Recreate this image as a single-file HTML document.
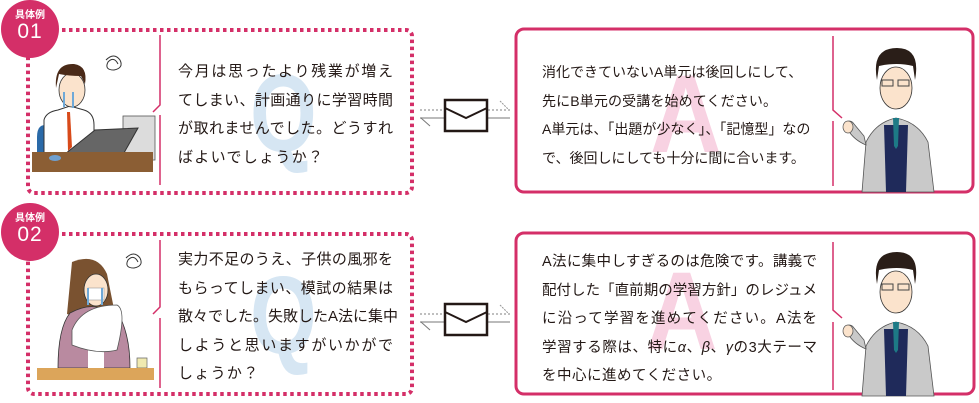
<!DOCTYPE html>
<html><head><meta charset="utf-8"><style>
html,body{margin:0;padding:0;background:#fff;}
body{width:979px;height:403px;position:relative;overflow:hidden;font-family:"Liberation Sans","Noto Sans CJK JP",sans-serif;}
.t{position:absolute;color:#231815;white-space:nowrap;font-size:15px;line-height:28.5px;}
.t div{text-align:justify;text-align-last:justify;}
.t div.l{text-align-last:left;}
.wm{position:absolute;font-family:"Liberation Sans",sans-serif;font-weight:bold;font-size:110px;line-height:1;transform-origin:0 0;}
.badge{position:absolute;width:58px;height:58px;border-radius:50%;background:#d42f68;color:#fff;text-align:center;}
.badge .s{font-size:10px;font-weight:bold;line-height:11px;margin-top:10px;}
.badge .n{font-size:21px;line-height:22px;letter-spacing:1px;}
</style></head><body>
<div class="wm" style="left:250px;top:59px;color:#d6e6f3;transform:scaleX(0.78);">Q</div>
<div class="wm" style="left:250px;top:261px;color:#d6e6f3;transform:scaleX(0.78);">Q</div>
<div class="wm" style="left:650px;top:60px;color:#f8d2e2;transform:scaleX(0.9);">A</div>
<div class="wm" style="left:646px;top:257px;color:#f8d2e2;transform:scaleX(0.9);">A</div>
<svg width="979" height="403" style="position:absolute;left:0;top:0">
  <rect x="28" y="30" width="384" height="163" rx="6" fill="none" stroke="#d42f68" stroke-width="4" stroke-dasharray="3.5 3.5"/>
  <rect x="28" y="234" width="384" height="160" rx="6" fill="none" stroke="#d42f68" stroke-width="4" stroke-dasharray="3.5 3.5"/>
  <rect x="516" y="29" width="457" height="163" rx="8" fill="none" stroke="#d42f68" stroke-width="3"/>
  <rect x="516" y="233" width="458" height="161" rx="8" fill="none" stroke="#d42f68" stroke-width="3"/>
  <g stroke="#d42f68" stroke-width="1.5" fill="none">
    <path d="M160 35 V105 L153 112"/><path d="M160 115 V185"/>
    <path d="M160 240 V307 L153 314"/><path d="M160 318 V388"/>
    <path d="M833 36 V110 L842 118"/><path d="M833 121 V186"/>
    <path d="M833 242 V310 L842 318"/><path d="M833 322 V390"/>
  </g>
  <g>
    <line x1="420" y1="110" x2="510" y2="110" stroke="#aaa" stroke-width="1.5" stroke-dasharray="2 2"/>
    <line x1="420" y1="118" x2="510" y2="118" stroke="#bbb" stroke-width="2"/>
    <line x1="421" y1="118" x2="430" y2="126" stroke="#777" stroke-width="1"/>
    <line x1="500" y1="101" x2="508" y2="109" stroke="#999" stroke-width="1" stroke-dasharray="2 1"/>
    <rect x="445" y="100" width="42" height="31" fill="#fff" stroke="#231815" stroke-width="2.5"/>
    <path d="M445 108 L466 118 L487 108" fill="none" stroke="#231815" stroke-width="2"/>
  </g>
  <g transform="translate(0,204)">
    <line x1="420" y1="110" x2="510" y2="110" stroke="#aaa" stroke-width="1.5" stroke-dasharray="2 2"/>
    <line x1="420" y1="118" x2="510" y2="118" stroke="#bbb" stroke-width="2"/>
    <line x1="421" y1="118" x2="430" y2="126" stroke="#777" stroke-width="1"/>
    <line x1="500" y1="101" x2="508" y2="109" stroke="#999" stroke-width="1" stroke-dasharray="2 1"/>
    <rect x="445" y="100" width="42" height="31" fill="#fff" stroke="#231815" stroke-width="2.5"/>
    <path d="M445 108 L466 118 L487 108" fill="none" stroke="#231815" stroke-width="2"/>
  </g>
  <g>
    <path d="M106 60 q8 -8 14 0 q4 8 -6 10 q-10 0 -6 -8 q6 -6 10 2" fill="none" stroke="#333" stroke-width="1"/>
    <path d="M45 125 q-8 0 -8 12 v18 h20 z" fill="#2a6aa8"/>
    <path d="M44 160 V120 q2 -8 14 -10 l12 -4 l14 4 q10 3 10 15 v35 z" fill="#fff" stroke="#333" stroke-width="1"/>
    <path d="M67 112 l3 0 l2 35 l-4 4 z" fill="#d84a1a"/>
    <ellipse cx="72" cy="90" rx="13" ry="17" fill="#fbe3cc" stroke="#333" stroke-width="0.8"/>
    <path d="M56 88 q-2 -25 18 -24 q14 2 11 20 l-4 -8 q-12 0 -22 -2 z" fill="#4a2a18"/>
    <line x1="64" y1="92" x2="64" y2="107" stroke="#6fa9d8" stroke-width="2"/>
    <line x1="73" y1="92" x2="73" y2="108" stroke="#6fa9d8" stroke-width="2"/>
    <rect x="123" y="116" width="32" height="44" fill="#dcdcdc" stroke="#555" stroke-width="0.8"/>
    <path d="M60 158 L95 130 L138 128 L120 160 z" fill="#666" stroke="#333" stroke-width="1"/>
    <rect x="32" y="152" width="121" height="20" fill="#8b5e34"/>
    <ellipse cx="55" cy="158" rx="6" ry="3" fill="#6fa0d0"/>
  </g>
  <g>
    <path d="M126 258 q8 -8 14 0 q4 8 -6 10 q-10 0 -6 -8 q6 -6 10 2" fill="none" stroke="#333" stroke-width="1"/>
    <path d="M72 262 q25 -10 35 12 l8 40 q-20 10 -48 0 z" fill="#7a5230"/>
    <ellipse cx="96" cy="290" rx="12" ry="16" fill="#fbe3cc" stroke="#333" stroke-width="0.8"/>
    <rect x="88" y="288" width="16" height="12" fill="#fff" stroke="#999" stroke-width="0.6"/>
    <line x1="88" y1="288" x2="88" y2="305" stroke="#6fa9d8" stroke-width="2"/>
    <line x1="102" y1="288" x2="102" y2="305" stroke="#6fa9d8" stroke-width="2"/>
    <path d="M58 368 q0 -40 12 -55 q15 -8 26 -6 q15 2 24 10 q10 20 10 51 z" fill="#b98aa0" stroke="#333" stroke-width="0.8"/>
    <path d="M88 320 h16 v48 h-16 z" fill="#fff"/>
    <path d="M72 330 q10 -25 45 -25 q10 5 0 45 q-20 5 -45 -5 z" fill="#fff" stroke="#555" stroke-width="0.8"/>
    <path d="M137 358 h10 v10 h-10 z" fill="#f0eab0" stroke="#666" stroke-width="0.7"/>
    <rect x="37" y="368" width="117" height="12" fill="#dca55a"/>
  </g>
  <g id="tch">
    <ellipse cx="896" cy="88" rx="16" ry="21" fill="#fbe3cc" stroke="#333" stroke-width="0.8"/>
    <path d="M877 80 q-6 -32 20 -32 q24 0 18 32 l-2 -14 q-16 -4 -34 0 z" fill="#2a1e18"/>
    <rect x="882" y="80" width="11" height="6" fill="none" stroke="#444" stroke-width="1"/>
    <rect x="898" y="80" width="11" height="6" fill="none" stroke="#444" stroke-width="1"/>
    <path d="M862 192 l4 -50 q10 -20 30 -24 q22 4 32 24 l6 50 z" fill="#c9c9c9" stroke="#555" stroke-width="0.8"/>
    <path d="M884 125 h24 l-2 67 h-20 z" fill="#1f2a5a"/>
    <path d="M893 118 h6 l-1 28 l-2 3 l-2 -3 z" fill="#1d7a86"/>
    <path d="M866 145 q-12 -5 -18 -15 l-4 -6 q6 -6 10 0 l10 12 z" fill="#c9c9c9" stroke="#555" stroke-width="0.8"/>
    <ellipse cx="848" cy="127" rx="5" ry="6" fill="#fbe3cc" stroke="#555" stroke-width="0.7"/>
  </g>
  <use href="#tch" transform="translate(0,204)"/>
</svg>
<div class="badge" style="left:1px;top:0px;"><div class="s">具体例</div><div class="n">01</div></div>
<div class="badge" style="left:1px;top:203px;"><div class="s">具体例</div><div class="n">02</div></div>
<div class="t" style="left:178px;top:58px;width:215px;letter-spacing:0;">
<div>今月は思ったより残業が増え</div><div>てしまい、計画通りに学習時間</div><div>が取れませんでした。どうすれ</div><div class="l" style="letter-spacing:1.3px">ばよいでしょうか？</div></div>
<div class="t" style="left:178px;top:246px;width:215px;letter-spacing:0;">
<div>実力不足のうえ、子供の風邪を</div><div>もらってしまい、模試の結果は</div><div>散々でした。失敗したA法に集中</div><div>しようと思いますがいかがで</div><div class="l" style="letter-spacing:1.3px">しょうか？</div></div>
<div class="t" style="left:542px;top:58px;width:235px;font-size:14px;">
<div>消化できていないA単元は後回しにして、</div><div>先にB単元の受講を始めてください。</div><div>A単元は、「出題が少なく」、「記憶型」なの</div><div>で、後回しにしても十分に間に合います。</div></div>
<div class="t" style="left:542px;top:248px;width:275px;font-size:14.5px;">
<div>A法に集中しすぎるのは危険です。講義で</div><div>配付した「直前期の学習方針」のレジュメ</div><div>に沿って学習を進めてください。A法を</div><div>学習する際は、特に<i>α</i>、<i>β</i>、<i>γ</i>の3大テーマ</div><div class="l" style="letter-spacing:0.5px">を中心に進めてください。</div></div>
</body></html>
